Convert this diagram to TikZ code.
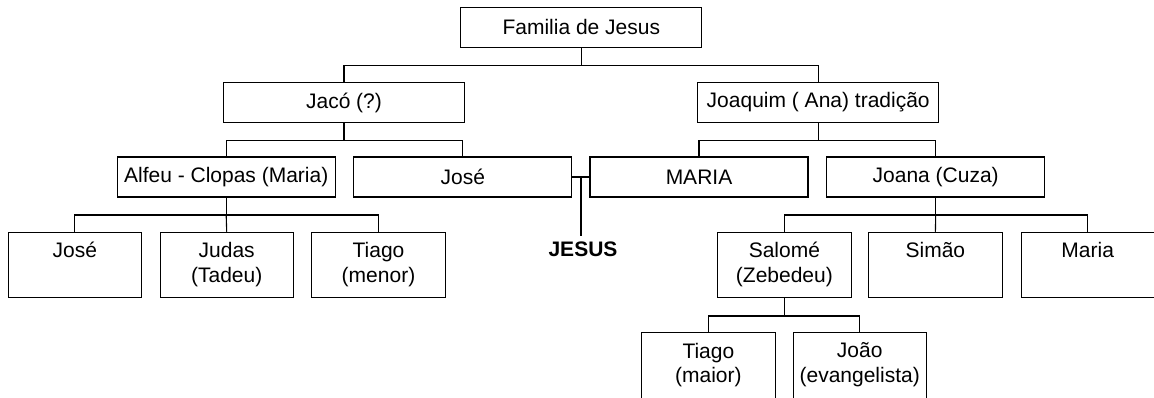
\documentclass[tikz,border=0pt]{standalone}
\usepackage{fontspec}
\setmainfont{Liberation Sans}
\usepackage{tikz}
\newcommand{\kidstrut}{\rule[-5.5pt]{0pt}{19pt}}
\newcommand{\kidtext}[2]{\kidstrut#1\\\kidstrut#2}

\begin{document}
\begin{tikzpicture}[x=1pt,y=-1pt,line width=1.1pt,
    font=\fontsize{21}{24.5}\selectfont,
    widebox/.style={draw,minimum width=241pt,minimum height=40pt,inner sep=0pt},
    midbox/.style={draw,minimum width=218pt,minimum height=40pt,inner sep=0pt},
    kidbox/.style={draw,minimum width=133.3pt,minimum height=65.4pt,inner sep=0pt,align=center}]
      \useasboundingbox (0,0) rectangle (1154,398);
      \node[widebox] (fam) at (581.3,27.3) {Familia de Jesus};
      \node[widebox] (jaco) at (344,102.5) {Jacó (?)};
      \node[widebox] (joaq) at (818.2,102.5) {Joaquim ( Ana) tradição};
      \node[midbox] (alfeu) at (226.2,177) {Alfeu - Clopas (Maria)};
      \node[midbox] (jose) at (462.9,177) {José};
      \node[midbox] (maria) at (699,177) {MARIA};
      \node[midbox] (joana) at (935.7,177) {Joana (Cuza)};
      \node[kidbox] (joseb) at (74.9,265) {\kidtext{José}{}};
      \node[kidbox] (judas) at (226.7,265) {\kidtext{Judas}{(Tadeu)}};
      \node[kidbox] (tiagom) at (378.5,265) {\kidtext{Tiago}{(menor)}};
      \node[kidbox] (salome) at (784.4,265) {\kidtext{Salomé}{(Zebedeu)}};
      \node[kidbox] (simao) at (935.4,265) {\kidtext{Simão}{}};
      \node[kidbox] (mariab) at (1087.7,265) {\kidtext{Maria}{}};
      \node[kidbox] (tiagoM) at (708.4,365.4) {\kidtext{Tiago}{(maior)}};
      \node[kidbox] (joao) at (859.7,365.4) {\kidtext{João}{(evangelista)}};
      \node[font=\fontsize{21}{24.5}\selectfont\bfseries,inner xsep=0pt,inner ysep=5.7pt,anchor=north]
      (jesus) at (583,236) {JESUS};
      % tree lines
      \draw (fam.south) -- ++(0,17.7) coordinate (famj);
      \draw (famj) -| (jaco.north);
      \draw (famj) -| (joaq.north);
      \draw (jaco.south) -- ++(0,17.5) coordinate (jacoj);
      \draw (jacoj) -| (alfeu.north);
      \draw (jacoj) -| (jose.north);
      \draw (joaq.south) -- ++(0,17.5) coordinate (joaqj);
      \draw (joaqj) -| (maria.north);
      \draw (joaqj) -| (joana.north);
      \draw (alfeu.south) -- ++(0,17.5) coordinate (alfeuj);
      \draw (alfeuj) -| (joseb.north);
      \draw (alfeuj) -- (judas.north);
      \draw (alfeuj) -| (tiagom.north);
      \draw (joana.south) -- ++(0,17.5) coordinate (joanaj);
      \draw (joanaj) -| (salome.north);
      \draw (joanaj) -- (simao.north);
      \draw (joanaj) -| (mariab.north);
      \draw (salome.south) -- ++(0,17.7) coordinate (salomej);
      \draw (salomej) -| (tiagoM.north);
      \draw (salomej) -| (joao.north);
      % José and Maria
      \draw (jose.east) -- (maria.west) coordinate[midway] (wed);
      \draw (wed) -- (wed |- jesus.north);
    \end{tikzpicture}
\end{document}
